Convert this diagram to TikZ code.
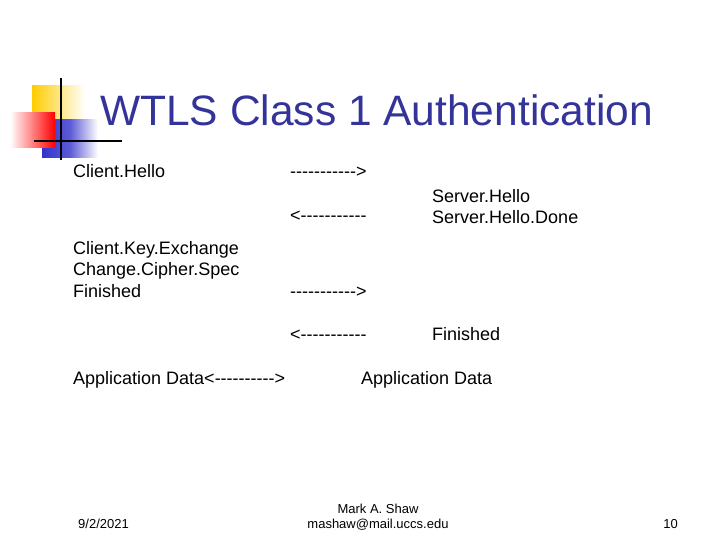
\documentclass[tikz,border=0pt]{standalone}
\usepackage{fontspec}
\setmainfont{Liberation Sans}
\definecolor{ttl}{HTML}{333399}
\definecolor{yel}{HTML}{FFCC00}
\definecolor{blu}{HTML}{3333CC}
\newcommand\dsh{-\kern0pt}
\newcommand\dshs{\dsh\dsh\dsh\dsh\dsh\dsh\dsh\dsh\dsh\dsh}
\begin{document}
\begin{tikzpicture}[x=1pt,y=-1pt,
  body/.style={anchor=base west,inner sep=0pt,font=\fontsize{18}{21.5}\selectfont,align=left},
  foot/.style={inner sep=0pt,font=\fontsize{13}{15}\selectfont,align=center}]
\useasboundingbox[fill=white] (0,0) rectangle (720,540);
\fill[left color=yel,right color=white] (32,86) rectangle (85,120);
\fill[left color=blu,right color=white,middle color=blu!80] (42,120) rectangle (98,158);
\fill[left color=white,right color=red] (10,113) rectangle (55,148);
\draw[line width=1.5pt] (61,78) -- (61,160);
\draw[line width=1.5pt] (34,141) -- (122,141);
\node[anchor=base west,inner sep=0pt,text=ttl,font=\fontsize{42.5}{50}\selectfont] (title) at (100,126) {WTLS Class 1 Authentication};
\node[body] (ch) at (73,178) {Client.Hello};
\node[body] (a1) at (290,178) {\dshs\dsh>};
\node[body] (a2) at (290,222) {<\dshs\dsh};
\node[body] (sh) at (432,224) {Server.Hello\\Server.Hello.Done};
\node[body] (ck) at (73,297) {Client.Key.Exchange\\Change.Cipher.Spec\\Finished};
\node[body] (a3) at (290,297) {\dshs\dsh>};
\node[body] (a4) at (290,340) {<\dshs\dsh};
\node[body] (sf) at (432,340) {Finished};
\node[body] (ad) at (73,384) {Application Data<\dshs>};
\node[body] (ad2) at (361,384) {Application Data};
\node[foot,anchor=base west] (date) at (78,528) {9/2/2021};
\node[foot,anchor=base] (auth) at (378,528) {Mark A. Shaw\\mashaw@mail.uccs.edu};
\node[foot,anchor=base east] (pg) at (678,528) {10};
\end{tikzpicture}
\end{document}
